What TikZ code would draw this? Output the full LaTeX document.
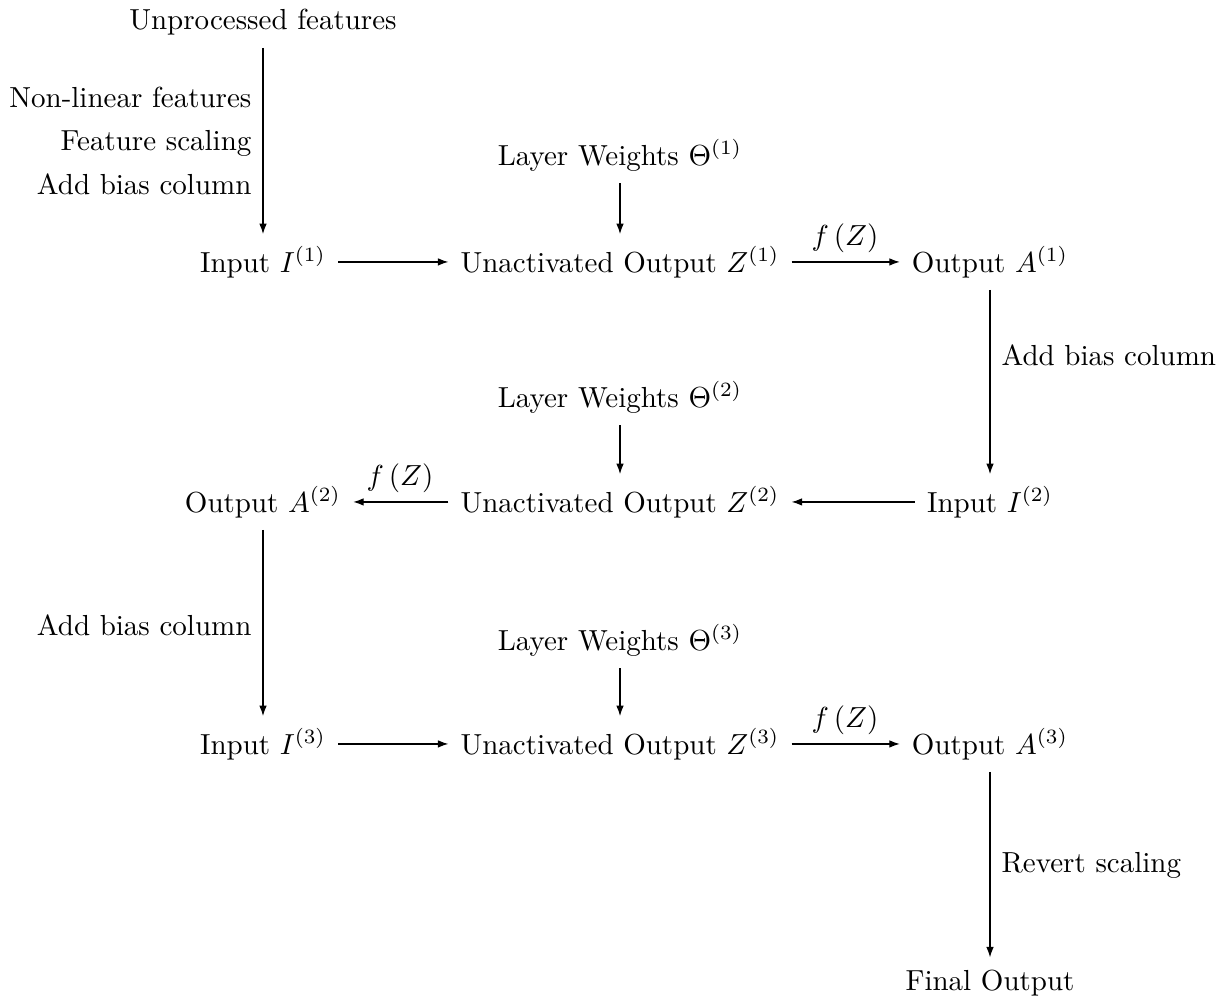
\documentclass[tikz,border=0pt]{standalone}
\usetikzlibrary{arrows.meta}
\begin{document}
\begin{tikzpicture}[x=0.3448pt,y=-0.3448pt,
  box/.style={inner sep=4pt,anchor=base},
  lab/.style={inner sep=0pt,anchor=base},
  arr/.style={-{Latex[length=3.6pt,width=2.6pt]},line width=0.4pt}]
\useasboundingbox (0,0) rectangle (1230,996);
% nodes
\node[box] (up) at (263,30) {Unprocessed features};
\node[box] (i1) at (263,272) {Input $I^{(1)}$};
\node[box] (z1) at (620,272) {Unactivated Output $Z^{(1)}$};
\node[box] (a1) at (990,272) {Output $A^{(1)}$};
\node[box] (w1) at (620,165) {Layer Weights $\Theta^{(1)}$};
\node[box] (w2) at (620,407) {Layer Weights $\Theta^{(2)}$};
\node[box] (a2) at (263,512) {Output $A^{(2)}$};
\node[box] (z2) at (620,512) {Unactivated Output $Z^{(2)}$};
\node[box] (i2) at (990,512) {Input $I^{(2)}$};
\node[box] (w3) at (620,650) {Layer Weights $\Theta^{(3)}$};
\node[box] (i3) at (263,754) {Input $I^{(3)}$};
\node[box] (z3) at (620,754) {Unactivated Output $Z^{(3)}$};
\node[box] (a3) at (990,754) {Output $A^{(3)}$};
\node[box] (fo) at (990,990) {Final Output};
% labels
\node[lab,anchor=base east] (l1) at (252,107) {Non-linear features};
\node[lab,anchor=base east] (l2) at (252,150) {Feature scaling};
\node[lab,anchor=base east] (l3) at (252,194) {Add bias column};
\node[lab,anchor=base west] (l4) at (1001,365) {Add bias column};
\node[lab,anchor=base east] (l5) at (252,635) {Add bias column};
\node[lab,anchor=base west] (l6) at (1001,872) {Revert scaling};
\node[lab] (f1) at (845,245) {$f\left(Z\right)$};
\node[lab] (f2) at (400,485) {$f\left(Z\right)$};
\node[lab] (f3) at (845,727) {$f\left(Z\right)$};
% arrows
\draw[arr] (up) -- (i1);
\draw[arr] (i1) -- (z1);
\draw[arr] (w1) -- (z1);
\draw[arr] (z1) -- (a1);
\draw[arr] (a1) -- (i2);
\draw[arr] (w2) -- (z2);
\draw[arr] (i2) -- (z2);
\draw[arr] (z2) -- (a2);
\draw[arr] (a2) -- (i3);
\draw[arr] (w3) -- (z3);
\draw[arr] (i3) -- (z3);
\draw[arr] (z3) -- (a3);
\draw[arr] (a3) -- (fo);
\end{tikzpicture}
\end{document}
